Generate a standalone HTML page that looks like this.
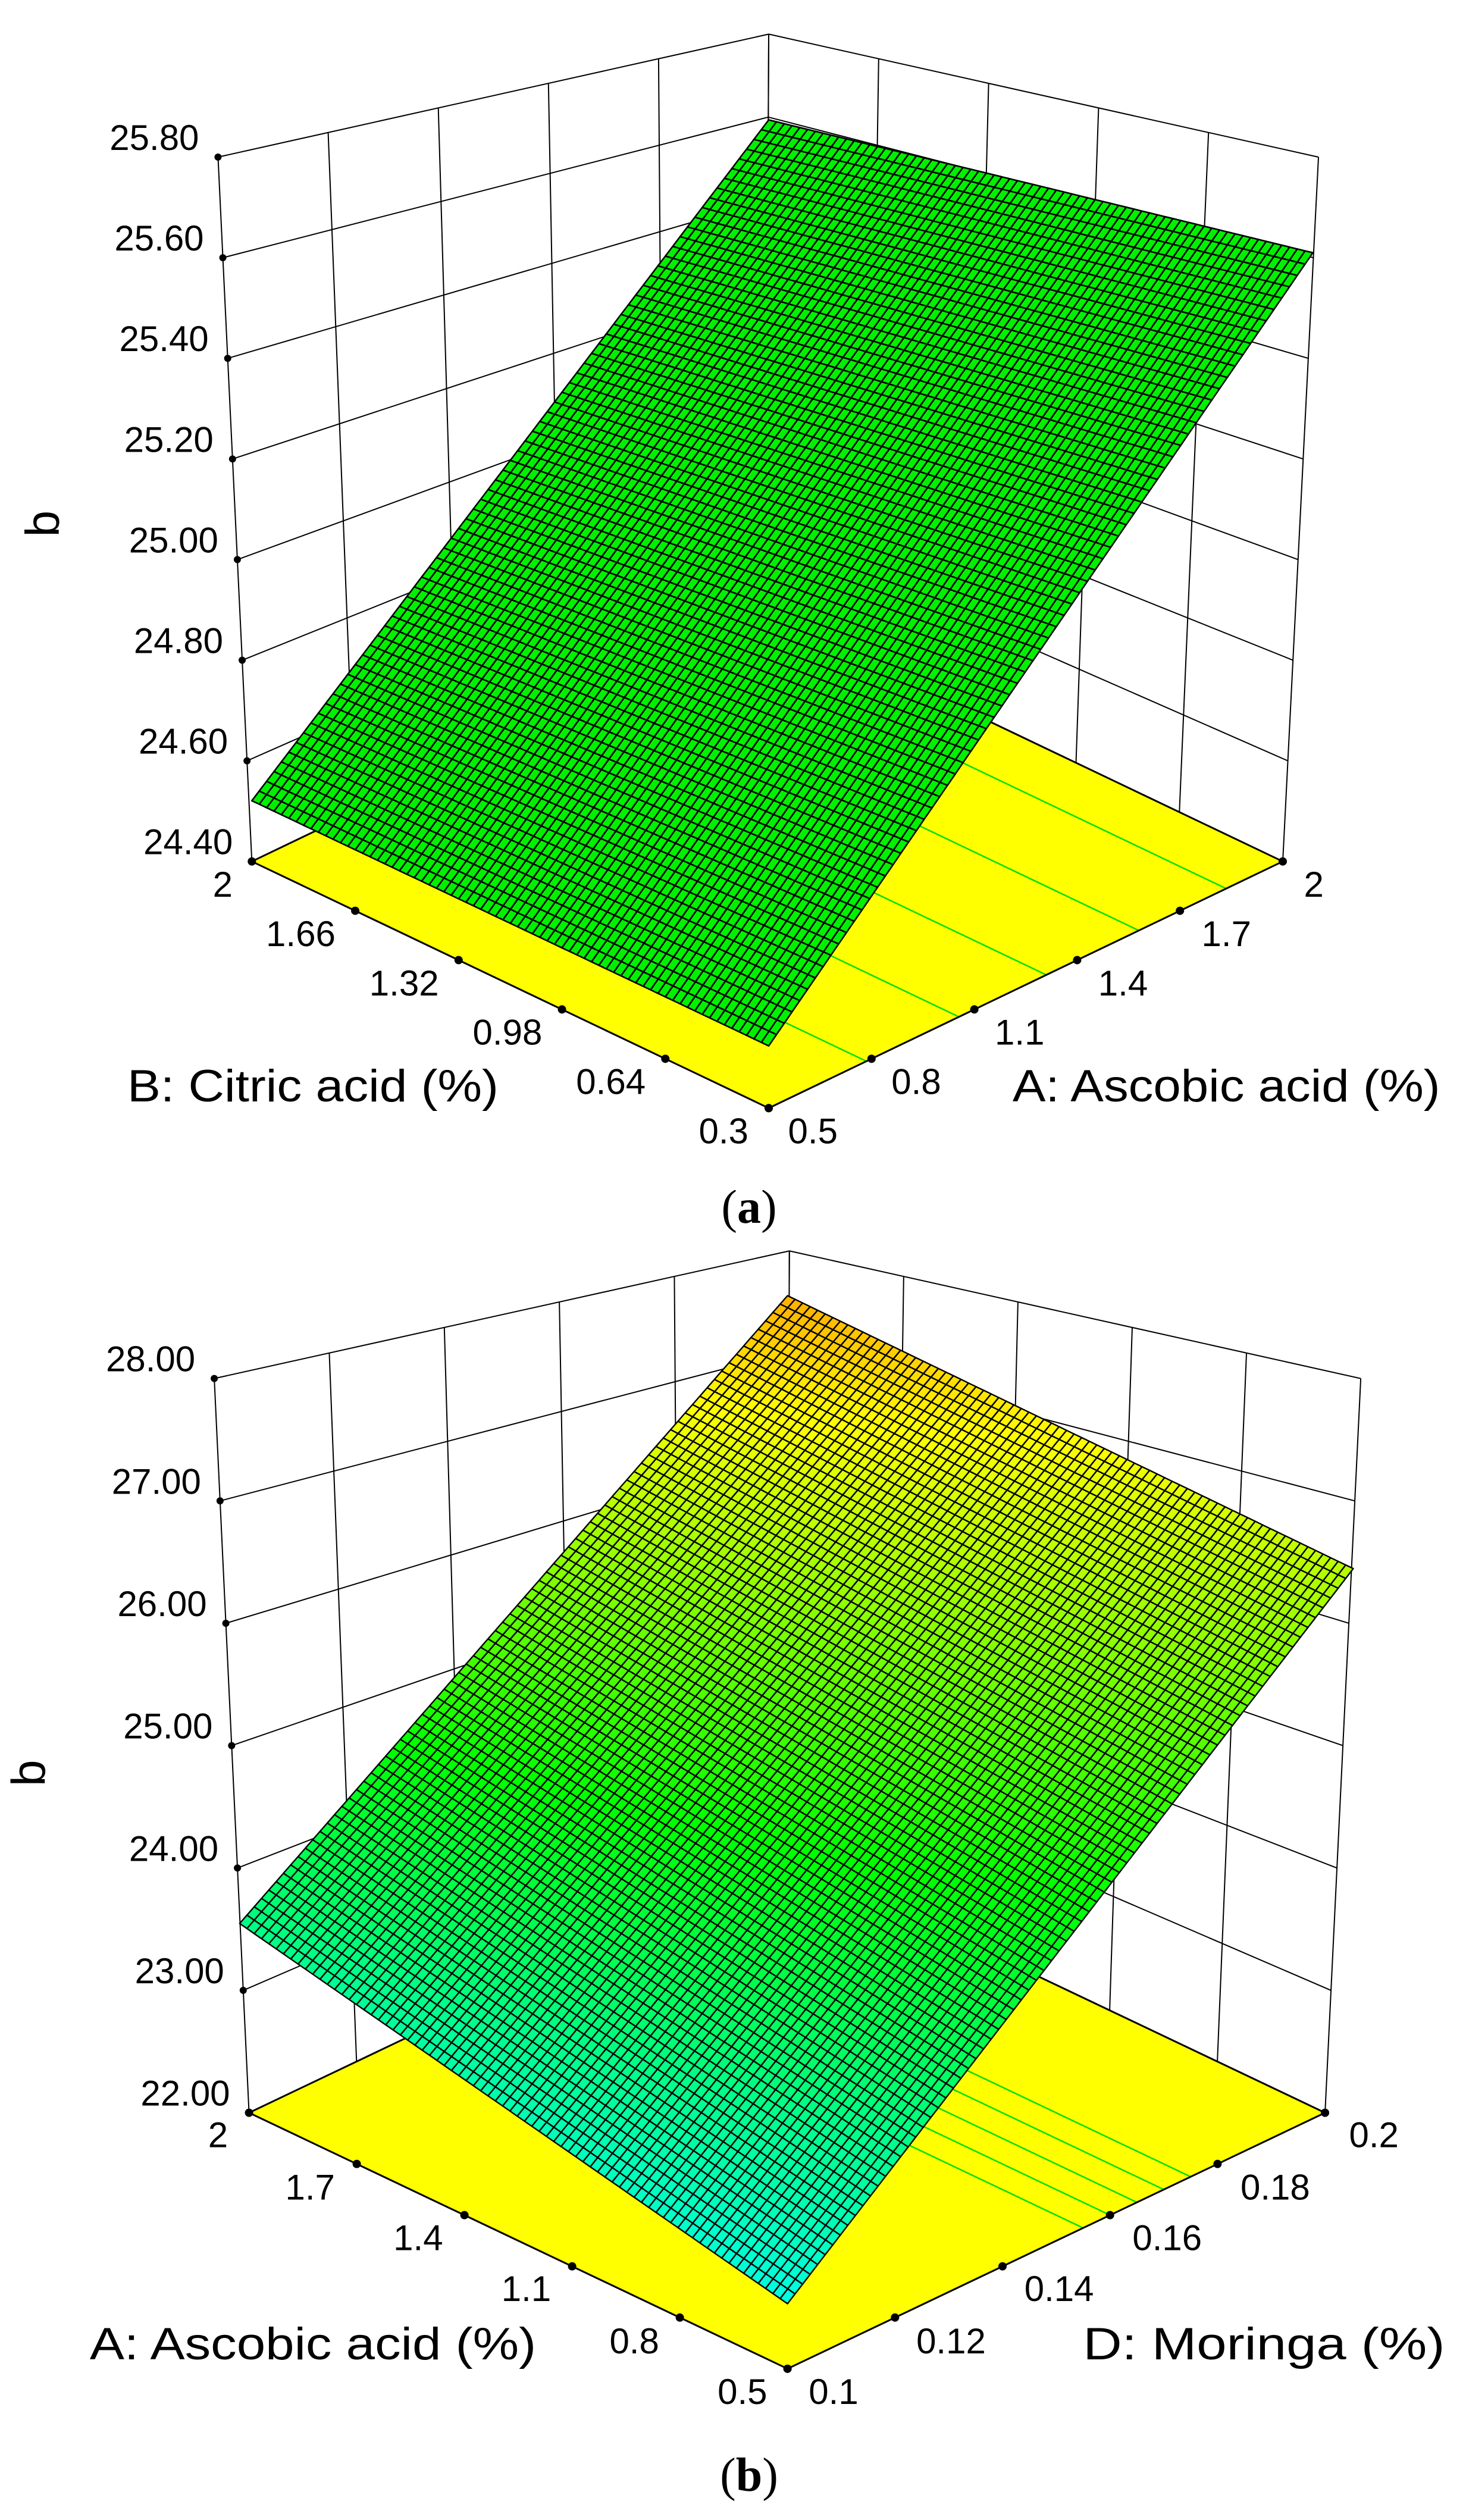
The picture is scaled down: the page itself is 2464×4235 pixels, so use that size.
<!DOCTYPE html>
<html><head><meta charset="utf-8"><style>
html,body{margin:0;padding:0;background:#fff;}
body{width:2464px;height:4235px;position:relative;overflow:hidden;}
svg{position:absolute;left:0;}
text{font-family:"Liberation Sans",Arial,sans-serif;fill:#000;}
.cap{font-family:"Liberation Serif","Times New Roman",serif;}
</style></head><body>
<svg id="a" style="top:0" width="2464" height="2000" viewBox="0 0 2464 2000"></svg>
<svg id="b" style="top:2000px" width="2464" height="2235" viewBox="0 0 2464 2235"></svg>
<script>
const NS="http://www.w3.org/2000/svg";
function el(svg,tag,attrs,txt){const e=document.createElementNS(NS,tag);for(const k in attrs)e.setAttribute(k,attrs[k]);if(txt!==undefined)e.textContent=txt;svg.appendChild(e);return e;}
function L(a,b,t){return [a[0]+(b[0]-a[0])*t,a[1]+(b[1]-a[1])*t];}
function bil(p00,p10,p01,p11,u,v){return L(L(p00,p10,u),L(p01,p11,u),v);}
function line(svg,p,q,c,w){el(svg,'line',{x1:p[0],y1:p[1],x2:q[0],y2:q[1],stroke:c,'stroke-width':w});}
function lerpC(stops,t){t=Math.max(0,Math.min(1,t));for(let i=0;i<stops.length-1;i++){const [t0,c0]=stops[i],[t1,c1]=stops[i+1];if(t<=t1){const f=(t-t0)/(t1-t0);return 'rgb('+c0.map((x,j)=>Math.round(x+(c1[j]-x)*f)).join(',')+')';}}return 'rgb('+stops[stops.length-1][1].join(',')+')';}
const CM=[[0,[0,0,255]],[0.25,[0,255,255]],[0.5,[0,255,0]],[0.75,[255,255,0]],[1,[255,0,0]]];
function caption(svg,x,y,s){const c=el(svg,'text',{x:x,y:y,'font-size':80,'text-anchor':'middle','class':'cap'});c.innerHTML='(<tspan font-weight="bold">'+s+'</tspan>)';}

function panel(svg,P){
 const sx=1.5795,sy=P.sy;
 const T=p=>[p[0]*sx,p[1]*sy];
 const Lt=T(P.Lt),Lb=T(P.Lb),Bt=T(P.Bt),Bb=T(P.Bb),Rt=T(P.Rt),Rb=T(P.Rb),F=T(P.F),nz=P.nz,nv=P.nv;
 el(svg,'polygon',{points:[Lb,F,Rb,Bb].map(p=>p.join(',')).join(' '),fill:'#ffff00'});
 P.cont.forEach(f=>{const p=L(F,Rb,f),q=L(Lb,Bb,f);line(svg,p,q,'#00e000',2.5);});
 for(let i=0;i<=nv;i++){const t=i/nv;line(svg,L(Lt,Bt,t),L(Lb,Bb,t),'#000',2);}
 for(let i=0;i<=nv;i++){const t=i/nv;line(svg,L(Bt,Rt,t),L(Bb,Rb,t),'#000',2);}
 for(let j=0;j<=nz;j++){const t=j/nz;line(svg,L(Lt,Lb,t),L(Bt,Bb,t),'#000',2);line(svg,L(Bt,Bb,t),L(Rt,Rb,t),'#000',2);}
 line(svg,Lb,Bb,'#000',3);line(svg,Bb,Rb,'#000',3);
 line(svg,Lb,F,'#000',3);line(svg,F,Rb,'#000',3);
 const S={l:T(P.surf.l),f:T(P.surf.f),b:T(P.surf.b),r:T(P.surf.r)},N=P.n;
 let g=el(svg,'g',{stroke:'#000','stroke-width':P.sw,'stroke-linejoin':'round'});
 for(let i=0;i<N;i++)for(let j=0;j<N;j++){
  const u0=i/N,u1=(i+1)/N,v0=j/N,v1=(j+1)/N;
  const pts=[bil(S.l,S.f,S.b,S.r,u0,v0),bil(S.l,S.f,S.b,S.r,u1,v0),bil(S.l,S.f,S.b,S.r,u1,v1),bil(S.l,S.f,S.b,S.r,u0,v1)];
  const uc=(u0+u1)/2,vc=(v0+v1)/2;
  const t=P.tl*(1-uc)*(1-vc)+P.tf*uc*(1-vc)+P.tb*(1-uc)*vc+P.tr*uc*vc;
  el(g,'polygon',{points:pts.map(p=>p[0].toFixed(1)+','+p[1].toFixed(1)).join(' '),fill:P.color?P.color:lerpC(CM,t)});
 }
 P.zl.forEach((s,j)=>{const p=L(Lt,Lb,j/nz);el(svg,'circle',{cx:p[0],cy:p[1],r:6});
  el(svg,'text',{x:p[0]-32,y:p[1]-12,'font-size':60,'text-anchor':'end'},s);});
 const nl=P.ll.length-1;
 P.ll.forEach((s,i)=>{const p=L(Lb,F,i/nl);el(svg,'circle',{cx:p[0],cy:p[1],r:7});});
 P.rl.forEach((s,i)=>{const p=L(F,Rb,i/(P.rl.length-1));el(svg,'circle',{cx:p[0],cy:p[1],r:7});});
 P.llp.forEach((p,i)=>{const q=T(p);el(svg,'text',{x:q[0],y:q[1]+21,'font-size':60,'text-anchor':'middle'},P.ll[i]);});
 P.rlp.forEach((p,i)=>{const q=T(p);el(svg,'text',{x:q[0],y:q[1]+21,'font-size':60,'text-anchor':'middle'},P.rl[i]);});
 P.titles.forEach(t=>{const q=T([t[0],t[1]]);el(svg,'text',{x:q[0],y:q[1]+27,'font-size':76,'text-anchor':'middle',textLength:t[3]*sx,lengthAdjust:'spacingAndGlyphs'},t[2]);});
 const bq=T(P.bl);
 el(svg,'text',{x:0,y:0,'font-size':80,'text-anchor':'middle',transform:'translate('+(bq[0]+28)+','+bq[1]+') rotate(-90)'},'b');
}

const A=document.getElementById('a'),B=document.getElementById('b');
panel(A,{sy:2000/1568,
 Lt:[232,207],Lb:[268,1135],Bt:[818,45],Bb:[815,810],Rt:[1403,207],Rb:[1365,1135],F:[818,1460],nz:7,nv:5,
 cont:[0.19,0.37,0.54,0.72,0.89],
 surf:{l:[268,1055],f:[818,1378],b:[818,158],r:[1397,333]},n:70,sw:2.6,color:'#00f000',
 zl:['25.80','25.60','25.40','25.20','25.00','24.80','24.60','24.40'],
 ll:['2','1.66','1.32','0.98','0.64','0.3'],rl:['0.5','0.8','1.1','1.4','1.7','2'],
 llp:[[237,1165],[320,1230],[430,1295],[540,1360],[650,1425],[770,1490]],
 rlp:[[865,1490],[975,1425],[1085,1360],[1195,1295],[1305,1230],[1398,1165]],
 titles:[[333,1430,'B: Citric acid (%)',395],[1305,1430,'A: Ascobic acid (%)',455]],
 bl:[45,690]
});
panel(B,{sy:2235/1574,
 Lt:[228,223],Lb:[265,1092],Bt:[840,72],Bb:[837,789],Rt:[1448,223],Rb:[1410,1092],F:[838,1395],nz:6,nv:5,
 cont:[0.55,0.6,0.65,0.7,0.75],
 surf:{l:[255,868],f:[838,1318],b:[838,125],r:[1440,448]},n:75,sw:2.4,
 tl:0.37,tf:0.28,tb:0.83,tr:0.68,
 zl:['28.00','27.00','26.00','25.00','24.00','23.00','22.00'],
 ll:['2','1.7','1.4','1.1','0.8','0.5'],rl:['0.1','0.12','0.14','0.16','0.18','0.2'],
 llp:[[232,1118],[330,1180],[445,1240],[560,1300],[675,1362],[790,1422]],
 rlp:[[887,1422],[1012,1362],[1127,1300],[1242,1240],[1357,1180],[1462,1118]],
 titles:[[333,1365,'A: Ascobic acid (%)',475],[1345,1365,'D: Moringa  (%)',385]],
 bl:[30,690]
});
caption(B,1259,55,'a');
caption(B,1259,2186,'b');
</script>
</body></html>
